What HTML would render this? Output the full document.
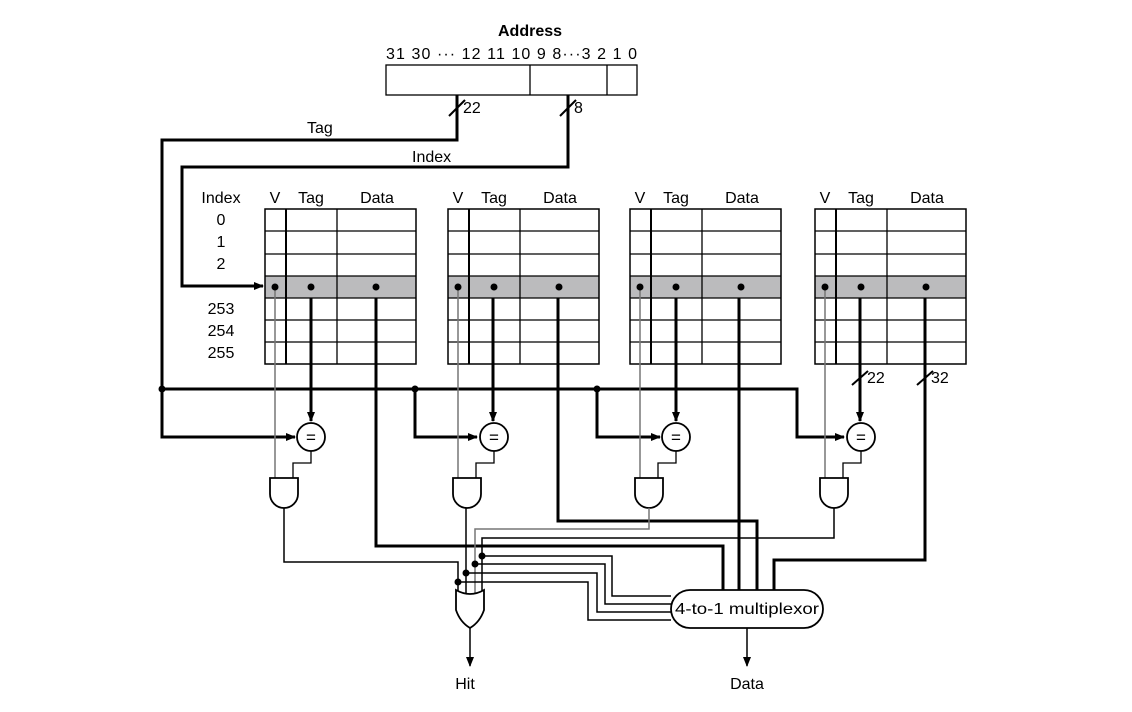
<!DOCTYPE html>
<html><head><style>body{margin:0;background:#fff}svg{display:block}text{font-family:"Liberation Sans",sans-serif;font-size:16px;fill:#000}</style></head>
<body>
<svg width="1132" height="712" viewBox="0 0 1132 712" xmlns="http://www.w3.org/2000/svg">
<defs><marker id="a" markerWidth="10" markerHeight="8" refX="9" refY="4" orient="auto" markerUnits="userSpaceOnUse"><path d="M0,0 L10,4 L0,8 Z" fill="#000"/></marker></defs>
<text x="530" y="36" text-anchor="middle" font-weight="bold" style="font-size:16px">Address</text>
<text x="386" y="59" textLength="251" lengthAdjust="spacing">31 30 ··· 12 11 10 9 8···3 2 1 0</text>
<rect x="386" y="65" width="251" height="30" fill="none" stroke="#000" stroke-width="1.3"/>
<line x1="530" y1="65" x2="530" y2="95" stroke="#000" stroke-width="1.3"/>
<line x1="607" y1="65" x2="607" y2="95" stroke="#000" stroke-width="1.3"/>
<g fill="none" stroke="#000" stroke-width="3">
<path d="M457,95 V140 H162 V437 H295" marker-end="url(#a)"/>
<path d="M568,95 V167 H182 V286 H263" marker-end="url(#a)"/>
<path d="M162,389 H797 V437 H844" marker-end="url(#a)"/>
<path d="M415,389 V437 H477" marker-end="url(#a)"/>
<path d="M597,389 V437 H660" marker-end="url(#a)"/>
<path d="M311,287 V421" marker-end="url(#a)"/>
<path d="M493,287 V421" marker-end="url(#a)"/>
<path d="M676,287 V421" marker-end="url(#a)"/>
<path d="M860,287 V421" marker-end="url(#a)"/>
<path d="M376,287 V546 H723 V590"/>
<path d="M558,287 V521 H757 V590"/>
<path d="M739,287 V590"/>
<path d="M925,287 V560 H774 V590"/>
</g>
<g stroke="#000" stroke-width="2">
<line x1="449" y1="116" x2="465" y2="100"/><line x1="560" y1="116" x2="576" y2="100"/>
<line x1="852" y1="385" x2="868" y2="371"/><line x1="917" y1="385" x2="933" y2="371"/>
</g>
<text x="463" y="113">22</text><text x="574" y="113">8</text>
<text x="307" y="133">Tag</text><text x="412" y="162">Index</text>
<text x="867" y="383">22</text><text x="931" y="383">32</text>
<text x="221" y="203" text-anchor="middle">Index</text>
<g text-anchor="middle"><text x="221" y="225">0</text><text x="221" y="247">1</text><text x="221" y="269">2</text><text x="221" y="314">253</text><text x="221" y="336">254</text><text x="221" y="358">255</text></g>
<g id="t">
<rect x="265" y="276" width="151" height="22" fill="#bbbbbd"/>
<rect x="265" y="209" width="151" height="155" fill="none" stroke="#000" stroke-width="1.5"/>
<g stroke="#000" stroke-width="1.3"><line x1="265" y1="231" x2="416" y2="231"/><line x1="265" y1="254" x2="416" y2="254"/><line x1="265" y1="276" x2="416" y2="276"/><line x1="265" y1="298" x2="416" y2="298"/><line x1="265" y1="320" x2="416" y2="320"/><line x1="265" y1="342" x2="416" y2="342"/><line x1="286" y1="209" x2="286" y2="364" stroke-width="2"/><line x1="337" y1="209" x2="337" y2="364"/></g>
<text x="275" y="203" text-anchor="middle">V</text><text x="311" y="203" text-anchor="middle">Tag</text><text x="377" y="203" text-anchor="middle">Data</text>
<line x1="275" y1="287" x2="275" y2="478" stroke="#777" stroke-width="1.5"/>
<circle cx="275" cy="287" r="3.5"/><circle cx="311" cy="287" r="3.5"/><circle cx="376" cy="287" r="3.5"/>
<circle cx="311" cy="437" r="14" fill="#fff" stroke="#000" stroke-width="1.8"/>
<text x="311" y="443" text-anchor="middle" style="font-size:17px">=</text>
<path d="M311,451 V463 H293 V478" fill="none" stroke="#000" stroke-width="1.3"/>
<path d="M270,478 H298 V494 A14,14 0 0 1 270,494 Z" fill="#fff" stroke="#000" stroke-width="1.8"/>
</g>
<use href="#t" transform="translate(183,0)"/>
<use href="#t" transform="translate(365,0)"/>
<use href="#t" transform="translate(550,0)"/>
<g fill="none" stroke-width="1.5">
<path d="M284,508 V562 H458 V595" stroke="#000"/>
<path d="M466,508 V595" stroke="#000"/>
<path d="M649,508 V529 H475 V595" stroke="#777"/>
<path d="M834,508 V538 H482 V595" stroke="#000"/>
<path d="M458,582 H588 V620 H671" stroke="#000"/>
<path d="M466,573 H597 V612 H671" stroke="#000"/>
<path d="M475,564 H605 V604 H671" stroke="#000"/>
<path d="M482,556 H612 V596 H671" stroke="#000"/>
</g>
<circle cx="458" cy="582" r="3.5"/><circle cx="466" cy="573" r="3.5"/><circle cx="475" cy="564" r="3.5"/><circle cx="482" cy="556" r="3.5"/>
<circle cx="162" cy="389" r="3.5"/><circle cx="415" cy="389" r="3.5"/><circle cx="597" cy="389" r="3.5"/>
<path d="M456,590 Q470,598 484,590 V610 Q480,622 470,628 Q460,622 456,610 Z" fill="#fff" stroke="#000" stroke-width="1.8"/>
<path d="M470,628 V666" stroke="#000" stroke-width="1.5" marker-end="url(#a)"/>
<text x="465" y="689" text-anchor="middle">Hit</text>
<rect x="671" y="590" width="152" height="38" rx="19" fill="#fff" stroke="#000" stroke-width="1.8"/>
<text x="747" y="614" text-anchor="middle" textLength="144" lengthAdjust="spacingAndGlyphs">4-to-1 multiplexor</text>
<path d="M747,628 V666" stroke="#000" stroke-width="1.5" marker-end="url(#a)"/>
<text x="747" y="689" text-anchor="middle">Data</text>
</svg>
</body></html>
